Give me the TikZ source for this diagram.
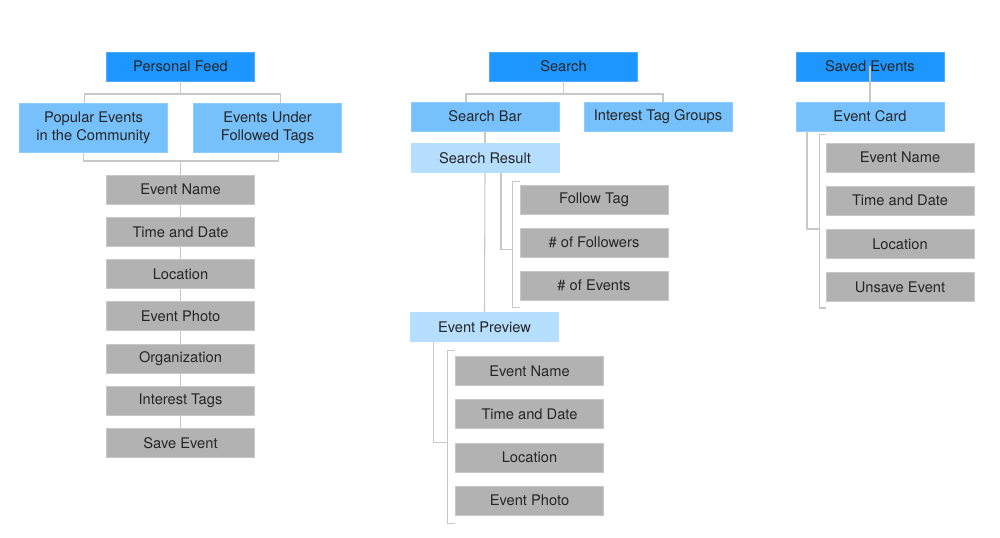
\documentclass[tikz,border=0pt]{standalone}
\usepackage{fontspec}
\setmainfont{TeX Gyre Heros}
\definecolor{topblue}{RGB}{30,150,255}
\definecolor{topedge}{RGB}{80,170,255}
\definecolor{midblue}{RGB}{118,192,252}
\definecolor{midedge}{RGB}{140,204,255}
\definecolor{lowblue}{RGB}{181,222,255}
\definecolor{itemgray}{RGB}{178,178,178}
\definecolor{itemedge}{RGB}{200,200,200}
\definecolor{linkgray}{RGB}{200,200,200}
\tikzstyle{box} = [rectangle, minimum width=111pt, minimum height=21.75pt, inner sep=0pt, align=center, text=black!85, font=\fontsize{11}{13.3}\selectfont, line width=0.6pt]
\tikzstyle{top} = [box, fill=topblue, draw=topedge]
\tikzstyle{sub} = [box, fill=midblue, draw=midedge]
\tikzstyle{res} = [box, fill=lowblue, draw=lowblue]
\tikzstyle{item} = [box, fill=itemgray, draw=itemedge]
\tikzstyle{link} = [draw=linkgray, line width=0.8pt]

\begin{document}
\begin{tikzpicture}[x=0.75pt,y=-0.75pt]
\useasboundingbox (0,0) rectangle (1000,538);
% personal feed
\node[top] (pf) at (180.5,66.5) {Personal Feed};
\node[sub, minimum height=36.75pt] (pfpop) at (93.5,127.5) {Popular Events\\in the Community};
\node[sub, minimum height=36.75pt] (pftag) at (267.5,127.5) {Events Under\\Followed Tags};
\foreach \t [count=\i] in {Event Name, Time and Date, Location, Event Photo, Organization, Interest Tags, Save Event}
  \node[item] (pf\i) at (180.5,{147.2+42.3*\i}) {\t};
\coordinate (pfup) at (180.5,94);
\coordinate (pfdown) at (180.5,161);
\draw[link] (pf.south) -- (pfup);
\draw[link] ([xshift=-7pt]pfpop.north) |- (pfup) -| ([xshift=10pt]pftag.north);
\draw[link] ([xshift=-7.5pt]pfpop.south) |- (pfdown) -| ([xshift=8.5pt]pftag.south);
\draw[link] (pfdown) -- (pf1.north);
\foreach \i [evaluate=\i as \j using int(\i+1)] in {1,...,6}
  \draw[link] (pf\i.south) -- (pf\j.north);

% search
\node[top] (se) at (563.5,66.5) {Search};
\node[sub] (sebar) at (485,116.5) {Search Bar};
\node[sub] (setag) at (658,116.5) {Interest Tag Groups};
\node[res] (seres) at (485,158) {Search Result};
\node[res] (seprev) at (484.5,327) {Event Preview};
\foreach \t [count=\i] in {Follow Tag, \# of Followers, \# of Events}
  \node[item] (sr\i) at (594,{156.5+43*\i}) {\t};
\foreach \t [count=\i] in {Event Name, Time and Date, Location, Event Photo}
  \node[item] (ep\i) at (529.5,{327.5+43.3*\i}) {\t};
\coordinate (seup) at (563.5,94);
\draw[link] (se.south) -- (seup);
\draw[link] ([xshift=-14.25pt]sebar.north) |- (seup) -| ([xshift=3.75pt]setag.north);
\draw[link] (sebar.south) -- (seres.north);
\draw[link] (seres.south) -- (seprev.north);
\draw[link] ([yshift=2.25pt]sr1.north west) -- ++(-5.25pt,0) |- ([yshift=-5.25pt]sr3.south west);
\draw[link] ([xshift=12pt]seres.south) |- ([xshift=-5.25pt,yshift=-5.6pt]sr2.west);
\draw[link] ([yshift=3.75pt]ep1.north west) -- ++(-6pt,0) |- ([yshift=-6pt]ep4.south west);
\draw[link] ([xshift=-38.6pt]seprev.south) |- ([xshift=-6pt]ep3.north west);

% saved events
\node[top] (sv) at (870,66.5) {Saved Events};
\node[sub] (svcard) at (870,116.5) {Event Card};
\foreach \t [count=\i] in {Event Name, Time and Date, Location, Unsave Event}
  \node[item] (sv\i) at (900,{114.3+43.2*\i}) {\t};
\draw[link] (sv.center) -- (svcard.north);
\draw[link] ([yshift=6pt]sv1.north west) -- ++(-4.5pt,0) |- ([yshift=-4.5pt]sv4.south west);
\draw[link] ([xshift=-47.25pt]svcard.south) |- ([xshift=-4.5pt]sv3.north west);
\end{tikzpicture}
\end{document}
